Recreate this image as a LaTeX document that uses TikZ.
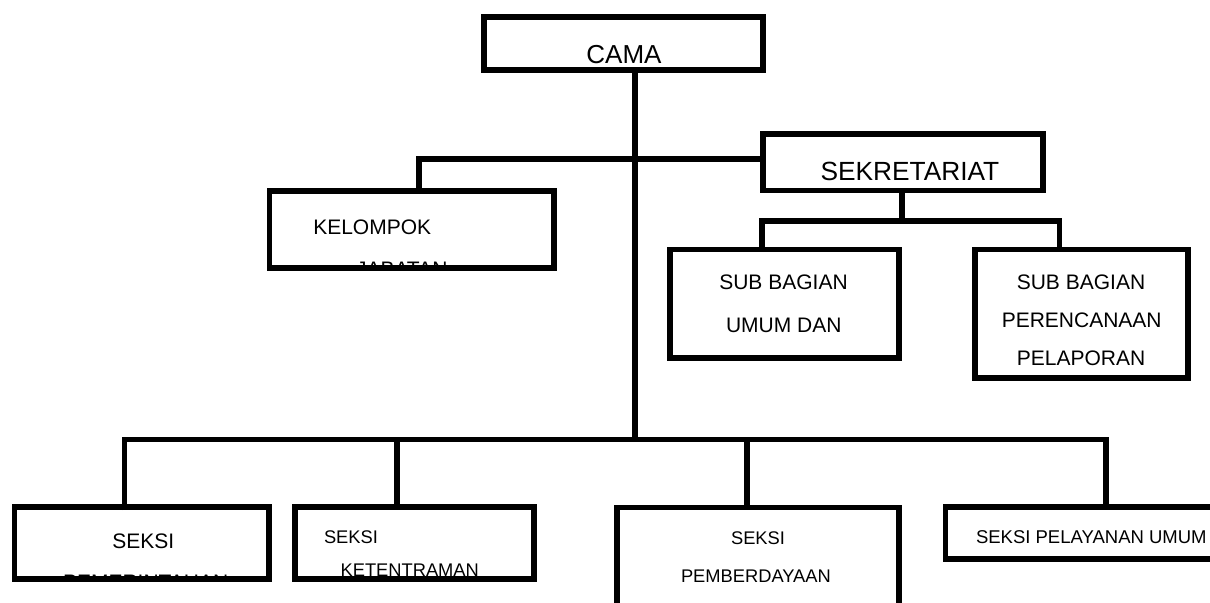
\documentclass[tikz,border=0pt]{standalone}
\usepackage{fontspec}
\setmainfont{Liberation Sans}
\begin{document}
\begin{tikzpicture}[x=1bp,y=-1bp,
  box/.style={draw=black,line width=5.7bp,rectangle,inner sep=0pt,outer sep=0pt},
  conn/.style={draw=black,line width=5.7bp,line join=miter},
  lbl/.style={inner sep=0pt,outer sep=0pt,text=black},
  fa/.style={font=\fontsize{26bp}{30bp}\selectfont},
  fb/.style={font=\fontsize{21bp}{25bp}\selectfont},
  fc/.style={font=\fontsize{18.3bp}{22bp}\selectfont},
  fd/.style={font=\fontsize{18.5bp}{22bp}\selectfont}]
\useasboundingbox (0,0) rectangle (1210,603);
\fill[white] (0,0) rectangle (1210,603);
\clip (0,0) rectangle (1210,603);

% boxes
\node[box,minimum width=278.5bp,minimum height=53bp] (cama) at (623.55,43.7) {};
\node[box,minimum width=279.6bp,minimum height=56.6bp] (sek) at (903,162.2) {};
\node[box,minimum width=284.3bp,minimum height=76.6bp] (kel) at (411.65,229.5) {};
\node[box,minimum width=228.6bp,minimum height=108.7bp] (subu) at (784.5,303.85) {};
\node[box,minimum width=212.6bp,minimum height=128.7bp] (subp) at (1081.5,313.85) {};
\node[box,minimum width=254.7bp,minimum height=72bp] (s1) at (141.85,543) {};
\node[box,minimum width=238.9bp,minimum height=72bp] (s2) at (414.35,543) {};
\node[box,minimum width=281.6bp,minimum height=142.5bp] (s3) at (758,578.75) {};
\node[box,minimum width=314.5bp,minimum height=52bp] (s4) at (1102.75,533) {};

% junction coordinates
\coordinate (trunk) at (635,439.5);
\coordinate (kelj) at (419,159);
\coordinate (sekj) at (902,221.3);
\coordinate (subuj) at (761.7,221.3);
\coordinate (subpj) at (1059.5,221.3);
\coordinate (b1) at (124.5,439.5);
\coordinate (b2) at (397,439.5);
\coordinate (b3) at (747.2,439.5);
\coordinate (b4) at (1106.2,439.5);

% connectors
\draw[conn] (cama.south -| trunk) -- (trunk);
\draw[conn] (kel.north -| kelj) -- (kelj) -- (kelj -| sek.west);
\draw[conn] (sek.south -| sekj) -- (sekj);
\draw[conn] (subu.north -| subuj) -- (subuj) -- (subpj) -- (subp.north -| subpj);
\draw[conn] ([yshift=-3bp]s1.north -| b1) -- (b1) -- (b4) -- (s4.north -| b4);
\draw[conn] (b2) -- (s2.north -| b2);
\draw[conn] (b3) -- (s3.north -| b3);

% texts
\node[lbl,fa,anchor=base] (camat) at (624,64) {CAMA};
\node[lbl,font=\fontsize{26.3bp}{30bp}\selectfont,anchor=base west] (sekt) at (820.5,181) {SEKRETARIAT};
\node[lbl,fb,anchor=base west] (kelt) at (313.3,234.3) {KELOMPOK};
\begin{scope}
  \clip (kel.north west) rectangle (kel.south east);
  \node[lbl,fb,anchor=base west] (jabt) at (356,276.7) {JABATAN};
\end{scope}
\node[lbl,fb,anchor=base] (subua) at (783.5,290) {SUB BAGIAN};
\node[lbl,fb,anchor=base] (subub) at (783.8,332.3) {UMUM DAN};
\node[lbl,fb,anchor=base] (subpa) at (1081,290) {SUB BAGIAN};
\node[lbl,fb,anchor=base] (subpb) at (1081.7,327.5) {PERENCANAAN};
\node[lbl,fb,anchor=base] (subpc) at (1081,365) {PELAPORAN};
\node[lbl,fb,anchor=base] (s1a) at (143.3,548.7) {SEKSI};
\begin{scope}
  \clip (s1.north west) rectangle (s1.south east);
  \node[lbl,fb,anchor=base west] (s1b) at (63,589.7) {PEMERINTAHAN};
\end{scope}
\node[lbl,fc,anchor=base west] (s2a) at (324,543) {SEKSI};
\node[lbl,fc,anchor=base west] (s2b) at (340.6,576) {KETENTRAMAN};
\node[lbl,fc,anchor=base] (s3a) at (758,544.7) {SEKSI};
\node[lbl,fc,anchor=base west] (s3b) at (681,582) {PEMBERDAYAAN};
\node[lbl,fd,anchor=base west] (s4a) at (976,543) {SEKSI PELAYANAN UMUM};
\end{tikzpicture}
\end{document}
